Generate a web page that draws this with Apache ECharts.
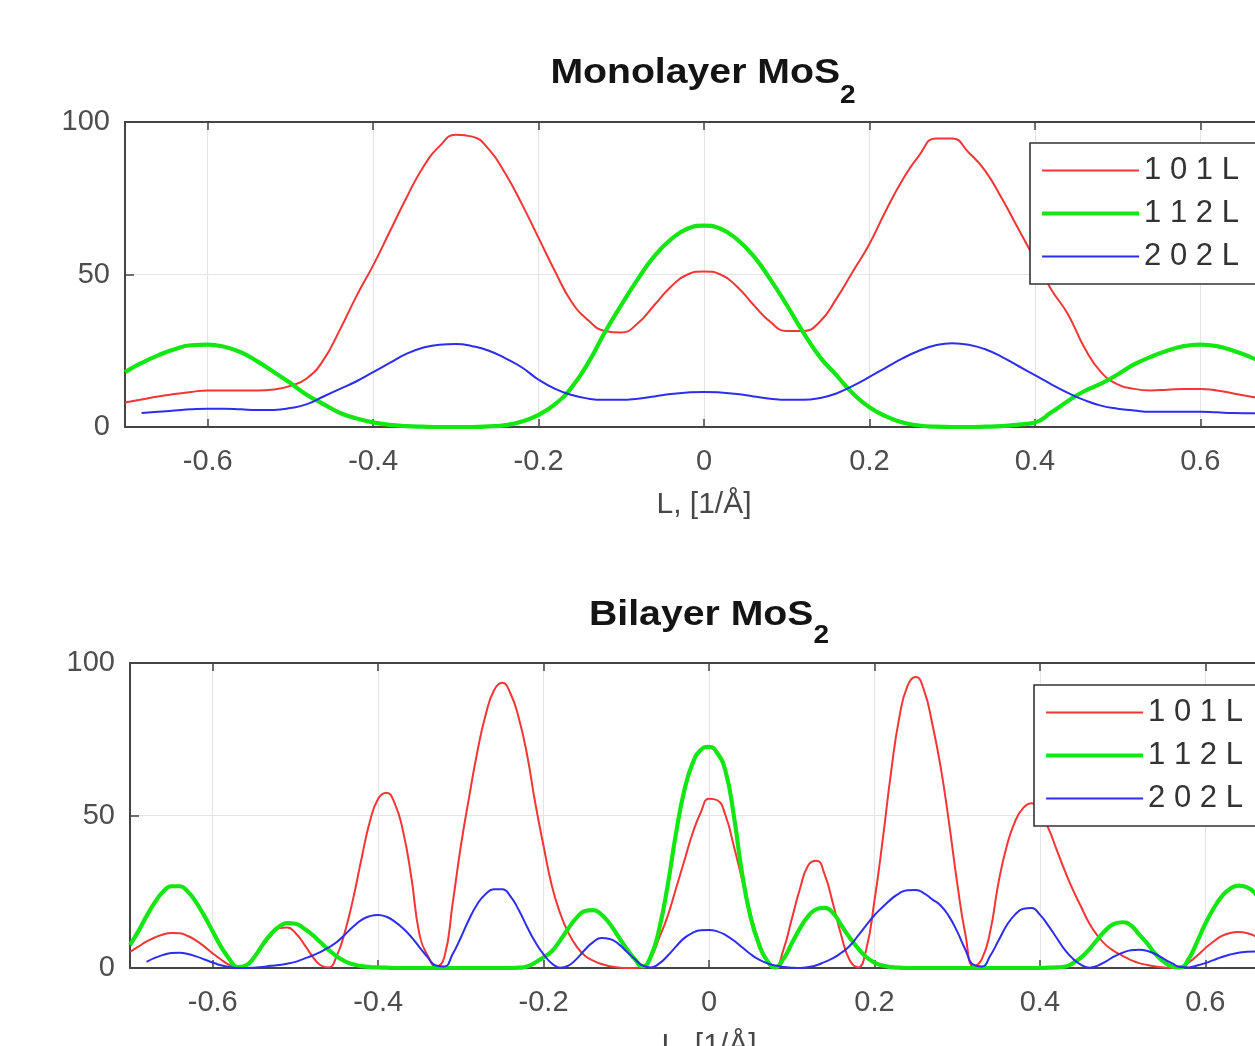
<!DOCTYPE html>
<html><head><meta charset="utf-8">
<script src="https://cdn.jsdelivr.net/npm/echarts@6/dist/echarts.min.js"></script>
<style>html,body{margin:0;padding:0;background:#fff;overflow:hidden}#c{width:1320px;height:1120px}</style>
</head><body><div id="c"></div><script>
const seriesNames = ['1 0 1 L', '1 1 2 L', '2 0 2 L'];
const titleMono = 'Monolayer MoS';
const titleBi = 'Bilayer MoS';
const titleSub = '2';
const xName = 'L, [1/Å]';

// Monolayer sample positions (step 0.02)
const L_mono = [-0.70,-0.68,-0.66,-0.64,-0.62,-0.60,-0.58,-0.56,-0.54,-0.52,-0.50,-0.48,-0.46,-0.44,-0.42,-0.40,-0.38,-0.36,-0.34,-0.32,-0.30,-0.28,-0.26,-0.24,-0.22,-0.20,-0.18,-0.16,-0.14,-0.12,-0.10,-0.08,-0.06,-0.04,-0.02,0,0.02,0.04,0.06,0.08,0.10,0.12,0.14,0.16,0.18,0.20,0.22,0.24,0.26,0.28,0.30,0.32,0.34,0.36,0.38,0.40,0.42,0.44,0.46,0.48,0.50,0.52,0.54,0.56,0.58,0.60,0.62,0.64,0.66,0.68,0.70];
const L_mono_blue = [-0.68,-0.66,-0.64,-0.62,-0.60,-0.58,-0.56,-0.54,-0.52,-0.50,-0.48,-0.46,-0.44,-0.42,-0.40,-0.38,-0.36,-0.34,-0.32,-0.30,-0.28,-0.26,-0.24,-0.22,-0.20,-0.18,-0.16,-0.14,-0.12,-0.10,-0.08,-0.06,-0.04,-0.02,0,0.02,0.04,0.06,0.08,0.10,0.12,0.14,0.16,0.18,0.20,0.22,0.24,0.26,0.28,0.30,0.32,0.34,0.36,0.38,0.40,0.42,0.44,0.46,0.48,0.50,0.52,0.54,0.56,0.58,0.60,0.62,0.64,0.66,0.68];
const mono101 = [8,9,10,10.8,11.5,12,12,12,12,12.3,13.5,16,22,32,43,53,64,75,85,92,95.8,95.2,91,83,73,62,51,41,35,31.5,31,34,40,46,50,51,50,46,40,34.5,31.5,31.5,34.5,42,51,60,71,81,89,94.6,94.6,90,84,75,65,55,45,37,26,18,14,12.5,12,12.2,12.5,12.5,12,11,10,9,8];
const mono112 = [18,21,23.5,25.5,26.8,27,26.3,24.5,21.5,18,14.4,10.5,7.5,4.6,2.8,1.5,0.7,0.3,0.1,0,0,0,0.2,0.6,1.8,4,7.5,13,21,31,40,48.5,56,61.5,65,66,65,61.5,56,48.5,40,31,23,17,11,6.5,3.5,1.5,0.5,0.1,0,0,0.1,0.3,0.8,1.5,4.8,8.5,11.8,14.2,17.2,20.5,23,25,26.5,27,26.5,25,23,20.5,18];
const mono202 = [4.6,5.0,5.4,5.8,6,6,5.8,5.6,5.6,6.2,7.5,10,12.5,15,18,21,24,26,27,27.2,26.5,25,22.5,19.5,15.5,12.5,10.5,9.3,8.9,8.9,9.3,10,10.8,11.3,11.5,11.3,10.8,10,9.3,8.9,8.9,9.5,11,13.5,16.4,19.5,22.5,25,26.8,27.5,27,25.5,23,20,17,14,11.2,8.8,7,6,5.4,5,5,5,5,4.8,4.6,4.5,4.4];

// Bilayer sample positions (step 0.01)
const L_bi = [-0.70,-0.69,-0.68,-0.67,-0.66,-0.65,-0.64,-0.63,-0.62,-0.61,-0.60,-0.59,-0.58,-0.57,-0.56,-0.55,-0.54,-0.53,-0.52,-0.51,-0.50,-0.49,-0.48,-0.47,-0.46,-0.45,-0.44,-0.43,-0.42,-0.41,-0.40,-0.39,-0.38,-0.37,-0.36,-0.35,-0.34,-0.33,-0.32,-0.31,-0.30,-0.29,-0.28,-0.27,-0.26,-0.25,-0.24,-0.23,-0.22,-0.21,-0.20,-0.19,-0.18,-0.17,-0.16,-0.15,-0.14,-0.13,-0.12,-0.11,-0.10,-0.09,-0.08,-0.07,-0.06,-0.05,-0.04,-0.03,-0.02,-0.01,0,0.01,0.02,0.03,0.04,0.05,0.06,0.07,0.08,0.09,0.10,0.11,0.12,0.13,0.14,0.15,0.16,0.17,0.18,0.19,0.20,0.21,0.22,0.23,0.24,0.25,0.26,0.27,0.28,0.29,0.30,0.31,0.32,0.33,0.34,0.35,0.36,0.37,0.38,0.39,0.40,0.41,0.42,0.43,0.44,0.45,0.46,0.47,0.48,0.49,0.50,0.51,0.52,0.53,0.54,0.55,0.56,0.57,0.58,0.59,0.60,0.61,0.62,0.63,0.64,0.65,0.66,0.67,0.68,0.69,0.70];
const L_bi_blue = [-0.68,-0.67,-0.66,-0.65,-0.64,-0.63,-0.62,-0.61,-0.60,-0.59,-0.58,-0.57,-0.56,-0.55,-0.54,-0.53,-0.52,-0.51,-0.50,-0.49,-0.48,-0.47,-0.46,-0.45,-0.44,-0.43,-0.42,-0.41,-0.40,-0.39,-0.38,-0.37,-0.36,-0.35,-0.34,-0.33,-0.32,-0.31,-0.30,-0.29,-0.28,-0.27,-0.26,-0.25,-0.24,-0.23,-0.22,-0.21,-0.20,-0.19,-0.18,-0.17,-0.16,-0.15,-0.14,-0.13,-0.12,-0.11,-0.10,-0.09,-0.08,-0.07,-0.06,-0.05,-0.04,-0.03,-0.02,-0.01,0,0.01,0.02,0.03,0.04,0.05,0.06,0.07,0.08,0.09,0.10,0.11,0.12,0.13,0.14,0.15,0.16,0.17,0.18,0.19,0.20,0.21,0.22,0.23,0.24,0.25,0.26,0.27,0.28,0.29,0.30,0.31,0.32,0.33,0.34,0.35,0.36,0.37,0.38,0.39,0.40,0.41,0.42,0.43,0.44,0.45,0.46,0.47,0.48,0.49,0.50,0.51,0.52,0.53,0.54,0.55,0.56,0.57,0.58,0.59,0.60,0.61,0.62,0.63,0.64,0.65,0.66,0.67,0.68];
const bi101 = [5.3,7,8.7,10,11,11.5,11.4,10.5,9,7,
 4.8,2.8,1,0,1,3.5,7,10.5,13,13.3,
 11.5,8,4,1,0.2,4,12,23,36,48,
 55.5,57.5,54,45,30,11,4,0.5,3.5,21,
 40,56,71,83,91,93.5,90,82,70,54,
 40,27,18,11.5,7,4,2.4,1.3,0.6,0.2,
 0,0,0.3,3.5,10,17,26,35,44,51,
 55.5,55,50,40,29,18,9,2.6,0.3,6,
 16,26,33.7,35.2,30.5,21,10.6,2.6,0.2,6,
 22,42,64,82,92.5,95.4,91,80,66,48,
 28,11,0.5,3,12,28,40,48,52.5,54,
 51,46,39,32,25.6,20,14.5,10.5,7.5,5.5,
 4,2.6,1.6,1,0.5,0.2,0,0.3,1.8,4,
 6.5,8.7,10.5,11.5,11.8,11.5,10.5,9,7.5,6,
 5];
const bi112 = [7.5,12,17,21.5,25,26.8,26.8,25,21.5,17,
 12,7,3,0.3,0.8,3.5,7.5,11,13.5,14.7,
 14.5,13,11,8.5,6,3.8,2.2,1.2,0.6,0.3,
 0.2,0.1,0,0,0,0,0,0,0,0,
 0,0,0,0,0,0,0,0.1,0.5,1.8,
 3.5,5.5,9,13,16.5,18.7,19,17.5,14.5,10.5,
 6.5,3,0.5,4,13,27,44,58,67,71.5,
 72.5,70.5,64.5,50,31,17,8,2.5,0.2,3,
 8,13,17,19.3,19.7,18,14,10,6.5,3.6,
 1.8,0.8,0.3,0.1,0,0,0,0,0,0,
 0,0,0,0,0,0,0,0,0,0,
 0,0.1,0.2,0.4,1.6,3.5,6.2,9.5,12.5,14.5,
 15,14,11,8,4.5,2,0.5,0.2,3,8.5,
 14.5,19.5,23.5,26,27,26.5,24.6,21,17,12,
 7.5];
const bi202 = [2,3.3,4.3,4.9,5,4.6,3.8,2.8,
 1.8,0.9,0.3,0,0,0.1,0.3,0.7,1,1.4,
 2,3,4,5.2,6.7,8.5,11,13.6,15.8,17,
 17.4,16.8,15.2,13,10.2,6.8,3.5,0.8,0.5,4.5,
 10,16,21,24.3,25.8,25.8,23.5,19,13.5,8.5,
 4.5,1.5,0.1,0.8,3,6,8.5,9.8,9.5,8,
 5.5,3,0.8,0.2,1.5,4,7,9.8,11.5,12.4,
 12.5,12,10.8,9,6.8,4.6,2.8,1.6,0.8,0.3,
 0.1,0,0.3,0.9,2,3.2,5,7.2,10.5,14,
 17.3,20,22.5,24.5,25.5,25.6,24.5,22.5,20.5,17,
 12,6,1,0.5,4,9,14,17.5,19.4,19.7,
 17.5,14,10,6,3,1,0.1,0.8,2.2,3.8,
 5,5.8,6,5.6,4.5,3,1.5,0.3,0.2,0.8,
 1.6,2.6,3.6,4.4,5,5.3,5.4,5.2,4.8];

const FONT = '"Liberation Sans", Arial, Helvetica, sans-serif';
const COLORS = ['#f23535', '#14e614', '#2d2df0'];
const WIDTHS = [2, 4.2, 2];

function pairs(xs, ys) { return xs.map((x, i) => [x, ys[i]]); }
function fmt(v) {
  const k = Math.round(v * 10);
  if (k % 2 !== 0) return '';
  return String(+(v.toFixed(1)));
}
function measure(text, size) {
  const c = document.createElement('canvas').getContext('2d');
  c.font = 'bold ' + size + 'px ' + FONT;
  return c.measureText(text).width;
}

const grids = [
  {left: 125, top: 122, width: 1158, height: 305},
  {left: 130, top: 663, width: 1158, height: 305}
];

const xAxes = [];
const yAxes = [];
[0, 1].forEach(g => {
  xAxes.push({
    type: 'value', gridIndex: g, min: -0.7, max: 0.7, splitNumber: 7, position: 'bottom',
    name: xName, nameLocation: 'middle', nameGap: 63,
    nameTextStyle: {fontSize: 30, color: '#474747', fontFamily: FONT},
    axisLine: {show: true, onZero: false, lineStyle: {color: '#444', width: 2}},
    axisTick: {show: true, inside: true, length: 8, lineStyle: {color: '#444', width: 1.5}},
    axisLabel: {show: true, formatter: fmt, fontSize: 29, color: '#4d4d4d', fontFamily: FONT, margin: 20, showMinLabel: false, showMaxLabel: false},
    splitLine: {show: true, lineStyle: {color: '#e4e4e4', width: 1.2}}
  });
  xAxes.push({
    type: 'value', gridIndex: g, min: -0.7, max: 0.7, splitNumber: 7, position: 'top',
    axisLine: {show: true, onZero: false, lineStyle: {color: '#444', width: 2}},
    axisTick: {show: true, inside: true, length: 8, lineStyle: {color: '#444', width: 1.5}},
    axisLabel: {show: false},
    splitLine: {show: false}
  });
  yAxes.push({
    type: 'value', gridIndex: g, min: 0, max: 100, interval: 50, position: 'left',
    axisLine: {show: true, onZero: false, lineStyle: {color: '#444', width: 2}},
    axisTick: {show: true, inside: true, length: 9, lineStyle: {color: '#444', width: 1.5}},
    axisLabel: {fontSize: 29, color: '#4d4d4d', fontFamily: FONT, margin: 15},
    splitLine: {show: true, lineStyle: {color: '#e4e4e4', width: 1.2}}
  });
});

function mk(name, idx, g, data) {
  return {
    name: name, type: 'line', xAxisIndex: g * 2, yAxisIndex: g, data: data,
    symbol: 'none', showSymbol: false, smooth: 0.5, animation: false,
    lineStyle: {color: COLORS[idx], width: WIDTHS[idx]},
    itemStyle: {color: COLORS[idx]}
  };
}

const series = [
  mk(seriesNames[0], 0, 0, pairs(L_mono, mono101)),
  mk(seriesNames[1], 1, 0, pairs(L_mono, mono112)),
  mk(seriesNames[2], 2, 0, pairs(L_mono_blue, mono202)),
  mk(seriesNames[0], 0, 1, pairs(L_bi, bi101)),
  mk(seriesNames[1], 1, 1, pairs(L_bi, bi112)),
  mk(seriesNames[2], 2, 1, pairs(L_bi_blue, bi202))
];

function legendAt(left, top) {
  return {
    data: seriesNames.map((n, i) => ({name: n, lineStyle: {width: WIDTHS[i], color: COLORS[i]}, itemStyle: {opacity: 0}})),
    orient: 'vertical', left: left, top: top,
    padding: [12, 40, 12, 10], itemGap: 12, itemWidth: 97, itemHeight: 16,
    backgroundColor: '#fff', borderColor: '#333', borderWidth: 1.6, borderRadius: 0,
    selectedMode: false, z: 10,
    itemStyle: {opacity: 0},
    textStyle: {fontSize: 31, color: '#333', fontFamily: FONT}
  };
}

const SX = 1.12;
function titleEls(main, cx, midY, subMidY) {
  const wMain = measure(main, 35) * SX;
  const wSub = measure(titleSub, 25) * SX;
  const x0 = cx - (wMain + wSub) / 2;
  return [
    {type: 'text', x: x0, y: midY, scaleX: SX, z: 20,
     style: {text: main, fontSize: 35, fontWeight: 'bold', fontFamily: FONT, fill: '#141414', align: 'left', verticalAlign: 'middle'}},
    {type: 'text', x: x0 + wMain, y: subMidY, scaleX: SX, z: 20,
     style: {text: titleSub, fontSize: 25, fontWeight: 'bold', fontFamily: FONT, fill: '#141414', align: 'left', verticalAlign: 'middle'}}
  ];
}

const chart = echarts.init(document.getElementById('c'), null, {renderer: 'canvas'});
chart.setOption({
  backgroundColor: '#fff',
  animation: false,
  grid: grids,
  xAxis: xAxes,
  yAxis: yAxes,
  legend: [legendAt(1030, 143), legendAt(1034, 685)],
  series: series,
  graphic: {elements: [].concat(titleEls(titleMono, 703, 73, 96), titleEls(titleBi, 709, 615, 636))}
});
</script></body></html>
